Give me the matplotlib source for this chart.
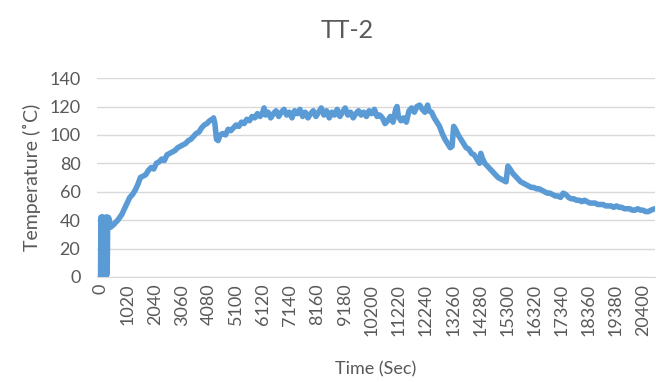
import matplotlib.pyplot as plt

plt.rcParams['font.family'] = ['Lato', 'DejaVu Sans']

# time (sec) and temperature (C)
time_sec = [0, 15, 30, 45, 60, 75, 90, 110, 130, 150, 170, 190, 210, 230, 250, 270, 290, 320, 380,
            500, 650, 800, 950, 1100, 1200, 1300, 1400, 1500, 1600, 1700, 1800, 1900, 2000,
            2100, 2200, 2300, 2400, 2500, 2600, 2700, 2800, 2900, 3000, 3100, 3200, 3300,
            3400, 3500, 3600, 3700, 3800, 3900, 4000, 4100, 4200, 4250, 4300, 4360, 4420,
            4500, 4600, 4700, 4800, 4900, 5000, 5100, 5200, 5300, 5400, 5500, 5600, 5700,
            5800, 5900, 6000, 6100, 6150, 6200, 6300, 6400, 6500, 6600, 6700, 6800, 6900,
            7000, 7100, 7200, 7300, 7400, 7500, 7600, 7700, 7800, 7900, 8000, 8100, 8200,
            8300, 8400, 8500, 8600, 8700, 8800, 8900, 9000, 9100, 9200, 9300, 9400, 9500,
            9600, 9700, 9800, 9900, 10000, 10100, 10200, 10300, 10400, 10500, 10600, 10700,
            10800, 10900, 11000, 11100, 11150, 11200, 11300, 11400, 11500, 11600, 11700,
            11800, 11900, 12000, 12100, 12200, 12300, 12350, 12450, 12550, 12650, 12750,
            12850, 12950, 13050, 13150, 13220, 13280, 13350, 13450, 13550, 13650, 13750,
            13850, 13950, 14050, 14150, 14250, 14300, 14350, 14450, 14550, 14650, 14750,
            14850, 14950, 15050, 15150, 15250, 15320, 15400, 15500, 15600, 15700, 15800,
            15900, 16000, 16100, 16200, 16300, 16400, 16500, 16600, 16700, 16800, 16900,
            17000, 17100, 17200, 17300, 17400, 17500, 17600, 17700, 17800, 17900, 18000,
            18100, 18200, 18300, 18400, 18500, 18600, 18700, 18800, 18900, 19000, 19100,
            19200, 19300, 19400, 19500, 19600, 19700, 19800, 19900, 20000, 20100, 20200,
            20300, 20400, 20500, 20600, 20700, 20840]
temperature = [0, 42, 1, 42, 0, 42, 2, 42, 0, 41, 1, 42, 0, 42, 2, 42, 42, 41, 35,
               37, 40, 44, 50, 56, 58, 61, 65, 70, 71, 72, 75, 77, 76,
               80, 81, 83, 82, 86, 87, 88, 89, 91, 92, 93, 94, 96,
               97, 99, 101, 102, 105, 107, 108, 110, 111, 112, 108, 97, 96,
               100, 101, 100, 104, 103, 105, 107, 106, 109, 108, 111, 110, 113,
               112, 115, 113, 116, 119, 114, 116, 112, 115, 117, 113, 116, 118,
               114, 116, 112, 117, 115, 118, 113, 116, 112, 115, 117, 113, 116,
               119, 114, 117, 112, 116, 114, 118, 113, 116, 119, 114, 116, 112,
               115, 117, 114, 116, 113, 117, 115, 118, 113, 114, 112, 108,
               110, 113, 109, 118, 120, 113, 110, 112, 109, 117, 119,
               116, 120, 121, 118, 116, 121, 117, 116, 112, 109, 106,
               101, 97, 94, 91, 92, 106, 104, 100, 97, 94, 91,
               90, 87, 86, 83, 80, 87, 84, 80, 78, 76, 74,
               72, 70, 69, 68, 67, 78, 76, 73, 71, 69, 67,
               66, 65, 64, 63, 63, 62, 62, 61, 60, 59, 59,
               58, 57, 57, 56, 59, 58, 56, 55, 55, 54, 54,
               53, 54, 53, 52, 52, 52, 51, 51, 51, 50, 50,
               50, 49, 50, 49, 49, 48, 48, 48, 47, 47, 48,
               47, 47, 46, 46, 47, 48]

xtick_values = list(range(0, 20401, 1020))
ytick_values = list(range(0, 141, 20))

grey = '#595959'

fig = plt.figure(figsize=(6.56, 3.83), dpi=100)
ax = fig.add_axes([0.148, 0.277, 0.85, 0.519])

ax.plot(time_sec, temperature, color='#5B9BD5', linewidth=4,
        solid_joinstyle='round', solid_capstyle='round')

ax.set_xlim(-130, 20840)
ax.set_ylim(0, 140)
ax.set_xticks(xtick_values)
ax.set_xticklabels([str(v) for v in xtick_values], rotation=90)
ax.set_yticks(ytick_values)
ax.tick_params(axis='both', length=0, labelsize=13, labelcolor=grey)
ax.tick_params(axis='x', pad=5)
ax.tick_params(axis='y', pad=12)
ax.grid(axis='y', color='#D9D9D9', linewidth=1)
ax.set_axisbelow(True)
for side in ['top', 'right', 'left']:
    ax.spines[side].set_visible(False)
ax.spines['bottom'].set_color('#D9D9D9')

ax.set_ylabel('Temperature (˚C)', fontsize=14, color=grey, labelpad=6)
fig.text(0.572, 0.035, 'Time (Sec)', fontsize=13, color=grey, ha='center', va='center')
fig.text(0.53, 0.92, 'TT-2', fontsize=18, color=grey, ha='center', va='center')

fig.savefig('out.png', dpi=100)
